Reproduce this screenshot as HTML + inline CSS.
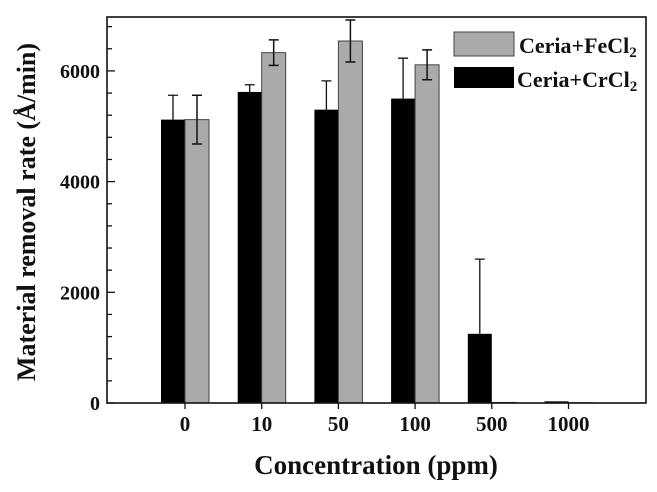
<!DOCTYPE html>
<html><head><meta charset="utf-8"><style>
body{margin:0;background:#fff}
svg text{font-family:"Liberation Serif",serif;font-weight:bold;fill:#111}
</style></head><body>
<svg id="chart" width="657" height="487" viewBox="0 0 657 487" xmlns="http://www.w3.org/2000/svg">
<g id="plot"></g>
<text transform="translate(35,212) rotate(-90)" text-anchor="middle" font-size="26">Material removal rate (Å/min)</text>
<text x="376" y="474" text-anchor="middle" font-size="27">Concentration (ppm)</text>
<g>
<rect x="454" y="32" width="60" height="24" fill="#aaa" stroke="#444" stroke-width="1"/>
<text x="519" y="53" font-size="22">Ceria+FeCl<tspan font-size="15" dy="4">2</tspan></text>
<rect x="454" y="67" width="60" height="21" fill="#000"/>
<text x="517" y="87" font-size="22">Ceria+CrCl<tspan font-size="15" dy="4">2</tspan></text>
</g>
</svg>
<script>
const categories=["0","10","50","100","500","1000"];
const crValues=[5120,5620,5300,5500,1250,30];
const crErrors=[440,130,520,730,1350,0];
const feValues=[5120,6330,6540,6110,10,5];
const feErrors=[440,230,380,270,0,0];
const yTicks=[0,2000,4000,6000];
const NS="http://www.w3.org/2000/svg";
const L=107,R=646,T=17,B=403,YMAX=6974;
const y=v=>B-(v/YMAX)*(B-T);
const x0=185,step=76.7,bw=24;
const x=i=>x0+i*step;
const g=document.getElementById('plot');
function mk(tag,attrs){const e=document.createElementNS(NS,tag);for(const k in attrs)e.setAttribute(k,attrs[k]);g.appendChild(e);return e;}
categories.forEach((c,i)=>{
  const cx=x(i);
  let r=mk('rect',{x:cx-bw,y:y(crValues[i]),width:bw,height:B-y(crValues[i]),fill:'#000'});
  
  
  let f=mk('rect',{x:cx,y:y(feValues[i]),width:bw,height:B-y(feValues[i]),fill:'#aaa',stroke:'#444','stroke-width':1});
  
  
  if(crErrors[i]>0){
    const ex=cx-bw/2,top=y(crValues[i]+crErrors[i]);
    let e=mk('path',{d:`M${ex},${y(crValues[i])}V${top}M${ex-5},${top}H${ex+5}`,stroke:'#111','stroke-width':1.3,fill:'none'});
    
    
  }
  if(feErrors[i]>0){
    const ex=cx+bw/2,top=y(feValues[i]+feErrors[i]),bot=y(feValues[i]-feErrors[i]);
    let e=mk('path',{d:`M${ex},${bot}V${top}M${ex-5},${top}H${ex+5}M${ex-5},${bot}H${ex+5}`,stroke:'#111','stroke-width':1.5,fill:'none'});
    
    
  }
  let t=mk('path',{d:`M${cx},${B}V${B+6}`,stroke:'#111','stroke-width':1.3});
  
  
  let tl=mk('text',{x:cx,y:B+28,'text-anchor':'middle','font-size':21});
  tl.textContent=c;
  
  
});
for(let v=0;v<=6800;v+=400){
  const major=v%2000===0;
  let t=mk('path',{d:`M${L},${y(v)}H${L+(major?8:5)}`,stroke:'#111','stroke-width':1.3});
  
  
}
yTicks.forEach(v=>{
  let tl=mk('text',{x:L-7,y:y(v)+7,'text-anchor':'end','font-size':20});
  tl.textContent=v;
  
  
});
let fr=mk('rect',{x:L,y:T,width:R-L,height:B-T,fill:'none',stroke:'#111','stroke-width':1.6});


</script>
</body></html>
